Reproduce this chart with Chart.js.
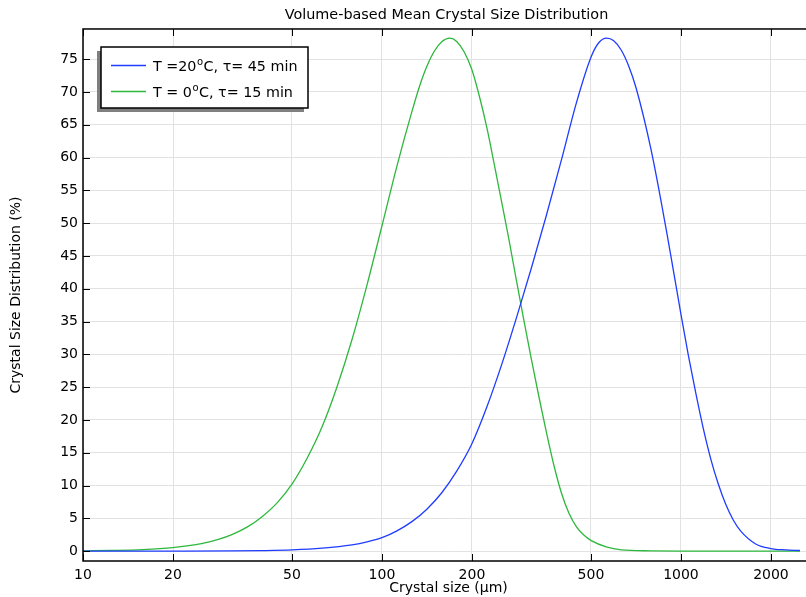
<!DOCTYPE html>
<html><head><meta charset="utf-8">
<script src="https://cdn.jsdelivr.net/npm/chart.js@4/dist/chart.umd.min.js"></script>
<style>
html,body{margin:0;padding:0;overflow:hidden;background:#fff}
#wrap{position:relative;width:893px;height:597px}
</style></head><body>
<div id="wrap"><canvas id="c" width="893" height="597"></canvas></div>
<script>
// ---- data ----
const seriesLabels = ['T =20°C, τ= 45 min', 'T = 0°C, τ= 15 min'];

// T = 20 °C, tau = 45 min (blue)
const blueSize = [10, 19.95, 31.62, 39.81, 50.12, 63.1, 79.43, 89.13, 100, 112.2, 125.9, 141.3, 158.5, 177.8, 199.5, 223.9, 251.2, 281.8, 316.2, 354.8, 398.1, 446.7, 501.2, 530.9, 564.2, 595.7, 631, 668, 707.9, 794.3, 891.3, 944.1, 1000, 1059, 1122, 1189, 1259, 1334, 1413, 1496, 1585, 1778, 1995, 2239, 2500];
const bluePct  = [0, 0.01, 0.03, 0.08, 0.19, 0.45, 0.95, 1.4, 2.05, 3.1, 4.5, 6.4, 8.9, 12.2, 16.3, 21.9, 28.4, 35.6, 43.2, 51.2, 59.6, 68.3, 75.4, 77.5, 78.2, 77.8, 76.4, 74.0, 70.6, 61.2, 49.2, 42.7, 36.1, 29.8, 24.0, 18.6, 14.0, 10.2, 7.1, 4.75, 3.05, 1.1, 0.4, 0.2, 0.1];

// T = 0 °C, tau = 15 min (green)
const greenSize = [10, 12.59, 15.85, 19.95, 25.12, 28.18, 31.62, 35.48, 39.81, 44.67, 50.12, 56.23, 63.1, 70.79, 79.43, 89.13, 100, 112.2, 125.9, 133.4, 141.3, 149.6, 158.5, 168.7, 177.8, 188.4, 199.5, 211.3, 223.9, 237.1, 251.2, 266.1, 281.8, 298.5, 316.2, 335, 354.8, 375.8, 398.1, 421.7, 446.7, 473.2, 501.2, 562.3, 631, 794.3, 1000, 2500];
const greenPct  = [0.05, 0.11, 0.24, 0.55, 1.2, 1.75, 2.56, 3.7, 5.3, 7.4, 10.3, 14.2, 19.0, 25.1, 32.3, 40.6, 49.6, 58.7, 67.0, 70.8, 73.9, 76.2, 77.65, 78.2, 77.7, 76.1, 73.5, 69.5, 64.7, 59.1, 53.3, 47.4, 41.2, 35.1, 29.2, 23.5, 18.1, 13.1, 8.9, 5.8, 3.75, 2.45, 1.6, 0.65, 0.2, 0.05, 0.01, 0];

const xTicks = [10, 20, 50, 100, 200, 500, 1000, 2000];
const yTicks = [0, 5, 10, 15, 20, 25, 30, 35, 40, 45, 50, 55, 60, 65, 70, 75];

const BLUE = '#1f3cff';
const GREEN = '#2db83d';

Chart.defaults.font.family = '"DejaVu Sans", sans-serif';
Chart.defaults.font.size = 14;
Chart.defaults.color = '#000';

const framePlugin = {
  id: 'frame',
  afterDraw(chart) {
    const ctx = chart.ctx, a = chart.chartArea;
    const xs = chart.scales.x, ys = chart.scales.y;
    ctx.save();
    ctx.strokeStyle = '#000';
    ctx.lineWidth = 1;
    ctx.beginPath();
    xs.ticks.forEach(t => {
      const px = Math.round(xs.getPixelForValue(t.value)) + 0.5;
      ctx.moveTo(px, a.bottom); ctx.lineTo(px, a.bottom - 7);
      ctx.moveTo(px, a.top); ctx.lineTo(px, a.top + 7);
    });
    ys.ticks.forEach(t => {
      const py = Math.round(ys.getPixelForValue(t.value)) + 0.5;
      ctx.moveTo(a.left, py); ctx.lineTo(a.left + 7, py);
      ctx.moveTo(a.right, py); ctx.lineTo(a.right - 7, py);
    });
    ctx.stroke();
    ctx.lineWidth = 1.5;
    ctx.strokeRect(a.left, a.top, a.right - a.left, a.bottom - a.top);
    ctx.restore();
  }
};

const legendPlugin = {
  id: 'legendBox',
  afterDraw(chart) {
    const ctx = chart.ctx;
    const x = 101, y = 47, w = 207, h = 61;
    ctx.save();
    ctx.fillStyle = '#7f7f7f';
    ctx.fillRect(x - 4, y + 4, w, h);
    ctx.fillStyle = '#fff';
    ctx.fillRect(x, y, w, h);
    ctx.strokeStyle = '#000';
    ctx.lineWidth = 1.5;
    ctx.strokeRect(x, y, w, h);
    chart.data.datasets.forEach((ds, i) => {
      const ly = 65.5 + i * 26;
      ctx.strokeStyle = ds.borderColor;
      ctx.lineWidth = 1.3;
      ctx.beginPath(); ctx.moveTo(111, ly); ctx.lineTo(146, ly); ctx.stroke();
      ctx.fillStyle = '#000';
      ctx.textBaseline = 'alphabetic';
      ctx.textAlign = 'left';
      const parts = ds.label.split('°');
      let tx = 153;
      const base = ly + 5;
      ctx.font = '14.3px "DejaVu Sans"';
      ctx.fillText(parts[0], tx, base);
      tx += ctx.measureText(parts[0]).width;
      if (parts.length > 1) {
        ctx.font = '10px "DejaVu Sans"';
        ctx.fillText('o', tx + 0.5, base - 6);
        tx += ctx.measureText('o').width + 1;
        ctx.font = '14.3px "DejaVu Sans"';
        ctx.fillText(parts[1], tx, base);
      }
    });
    ctx.restore();
  }
};

new Chart(document.getElementById('c'), {
  type: 'line',
  data: {
    datasets: [
      { label: seriesLabels[0], data: blueSize.map((s, i) => ({x: s, y: bluePct[i]})),
        borderColor: BLUE, borderWidth: 1.3, pointRadius: 0, cubicInterpolationMode: 'monotone', fill: false },
      { label: seriesLabels[1], data: greenSize.map((s, i) => ({x: s, y: greenPct[i]})),
        borderColor: GREEN, borderWidth: 1.3, pointRadius: 0, cubicInterpolationMode: 'monotone', fill: false }
    ]
  },
  options: {
    responsive: false,
    devicePixelRatio: 1,
    animation: false,
    layout: { padding: 0 },
    plugins: {
      legend: { display: false },
      tooltip: { enabled: false },
      title: { display: true, text: 'Volume-based Mean Crystal Size Distribution',
        font: { size: 14.4, weight: 'normal' }, padding: { top: 7, bottom: 4.7 } }
    },
    scales: {
      x: {
        type: 'logarithmic', min: 10, max: 2786,
        afterBuildTicks: s => { s.ticks = xTicks.map(v => ({ value: v })); },
        afterFit: s => { s.height = 36; },
        ticks: { callback: v => String(v), maxRotation: 0, autoSkip: false, padding: 5.5, font: { size: 14 } },
        grid: { color: '#e2e2e2', drawTicks: false, lineWidth: 1 },
        border: { display: false },
        title: { display: true, text: 'Crystal size (µm)', font: { size: 14 }, padding: { top: 0, bottom: 0 } }
      },
      y: {
        min: -1.5, max: 79.6,
        afterBuildTicks: s => { s.ticks = yTicks.map(v => ({ value: v })); },
        afterFit: s => { s.width = 83; },
        ticks: { padding: 5, autoSkip: false, font: { size: 14 } },
        grid: { color: '#e2e2e2', drawTicks: false, lineWidth: 1 },
        border: { display: false },
        title: { display: true, text: 'Crystal Size Distribution (%)', font: { size: 14 }, padding: { top: 8, bottom: 0 } }
      },
      yRight: {
        position: 'right', min: -1.5, max: 79.6,
        afterFit: s => { s.width = 79; },
        ticks: { display: false },
        grid: { display: false, drawTicks: false },
        border: { display: false },
        title: { display: false }
      }
    }
  },
  plugins: [framePlugin, legendPlugin]
});
</script>
</body></html>
